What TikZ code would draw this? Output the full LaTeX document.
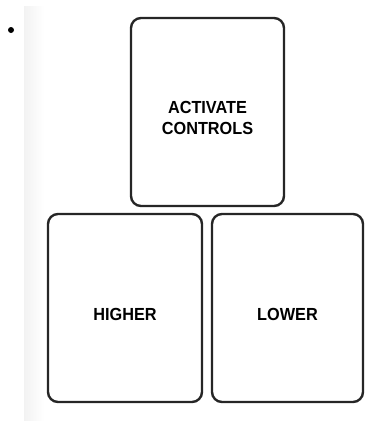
\documentclass[tikz,border=0pt]{standalone}
\usepackage{fontspec}
\setmainfont{Liberation Sans}
\begin{document}
\begin{tikzpicture}[x=1pt,y=-1pt,
  btn/.style={draw=black!85,line width=2.4pt,rounded corners=10pt,fill=white},
  lbl/.style={font=\bfseries\fontsize{17.5}{21}\selectfont,align=center,inner sep=0pt,xscale=0.93,yshift=-6pt}]
\useasboundingbox (0,0) rectangle (365,421);
\shade[left color=black!5,right color=white] (24,6) rectangle (44,421);
\fill[black] (11,30) circle (3);
\draw[btn] (131,18) rectangle (284,206) node[pos=0.5,lbl] (act) {ACTIVATE\\CONTROLS};
\draw[btn] (48,214) rectangle (202,402) node[pos=0.5,lbl] (hi) {HIGHER};
\draw[btn] (212,214) rectangle (363,402) node[pos=0.5,lbl] (lo) {LOWER};
\end{tikzpicture}
\end{document}
